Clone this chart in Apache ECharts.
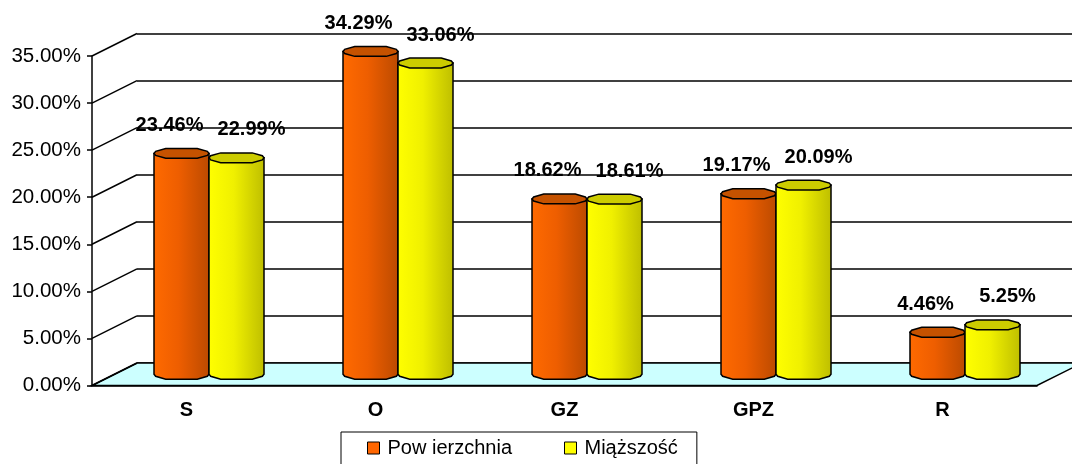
<!DOCTYPE html>
<html>
<head>
<meta charset="utf-8">
<script src="https://cdn.jsdelivr.net/npm/echarts@6/dist/echarts.min.js"></script>
<style>
  html, body { margin: 0; padding: 0; background: #fff; }
  #chart { width: 1072px; height: 464px; }
</style>
</head>
<body>
<div id="chart"></div>
<script>
// dane
const categories = ['S', 'O', 'GZ', 'GPZ', 'R']
const powierzchnia = [23.46, 34.29, 18.62, 19.17, 4.46]
const miazszosc = [22.99, 33.06, 18.61, 20.09, 5.25]
const seriesNames = ['Pow ierzchnia', 'Miąższość']
const yMax = 35
const yStep = 5

// uklad "3D": przednia plaszczyzna, srodek (slupki), tylna sciana
const depthX = 45
const depthY = 22.5
const front = { left: 92, top: 56, width: 945, height: 329.5 }
const mid = { left: front.left + depthX / 2, top: front.top - depthY / 2, width: front.width, height: front.height }
const back = { left: front.left + depthX, top: front.top - depthY, width: front.width, height: front.height }

const FONT = 'Liberation Sans, Arial, sans-serif'
const BAR_W = 55
const RY = 6

const chart = echarts.init(document.getElementById('chart'))

function ellipsePts(cx, cy, rx, ry, angles) {
  return angles.map(a => {
    const t = a * Math.PI / 180
    return [cx + rx * Math.cos(t), cy - ry * Math.sin(t)]
  })
}

function cylinder(side, stops, topColor, labelDx) {
  return function (params, api) {
    const cat = api.value(0)
    const val = api.value(1)
    const base = api.coord([cat, 0])
    const top = api.coord([cat, val])
    const xc = base[0] + side * BAR_W / 2
    const rx = BAR_W / 2
    const x0 = xc - rx
    const x1 = xc + rx
    // korpus: boki + dolna krawedz
    const body = [[x0, top[1]]].concat(
      ellipsePts(xc, base[1], rx, RY, [180, 200, 235, 305, 340, 360]),
      [[x1, top[1]]]
    )
    const lid = ellipsePts(xc, top[1], rx, RY, [0, 20, 55, 125, 160, 180, 200, 235, 305, 340])
    return {
      type: 'group',
      children: [
        {
          type: 'polygon',
          shape: { points: body },
          style: {
            fill: new echarts.graphic.LinearGradient(0, 0, 1, 0, stops),
            stroke: '#000',
            lineWidth: 1.5
          }
        },
        {
          type: 'polygon',
          shape: { points: lid },
          style: { fill: topColor, stroke: '#000', lineWidth: 1.5 }
        },
        {
          type: 'text',
          style: {
            text: val.toFixed(2) + '%',
            x: xc + labelDx,
            y: top[1] - 28,
            align: 'center',
            verticalAlign: 'middle',
            font: 'bold 20px ' + FONT,
            fill: '#000'
          }
        }
      ]
    }
  }
}

const option = {
  animation: false,
  backgroundColor: '#fff',
  grid: [
    Object.assign({}, front),
    Object.assign({}, mid),
    Object.assign({}, back)
  ],
  legend: {
    left: 341,
    top: 432,
    data: [
      { name: seriesNames[0], icon: 'rect', itemStyle: { color: '#FF6600', borderColor: '#000', borderWidth: 1 } },
      { name: seriesNames[1], icon: 'rect', itemStyle: { color: '#FFFF00', borderColor: '#000', borderWidth: 1 } }
    ],
    itemWidth: 12,
    itemHeight: 12,
    itemGap: 52,
    padding: [6, 19, 12, 26],
    borderColor: '#000',
    borderWidth: 1,
    backgroundColor: '#fff',
    textStyle: { fontFamily: FONT, fontSize: 20, color: '#000', padding: [0, 0, 0, 3] }
  },
  xAxis: [
    {
      gridIndex: 0,
      type: 'category',
      data: categories,
      axisLine: { lineStyle: { color: '#000', width: 1.5 } },
      axisTick: { length: 5, lineStyle: { color: '#000', width: 1.5 } },
      axisLabel: { color: '#000', fontFamily: FONT, fontWeight: 'bold', fontSize: 20, margin: 15 }
    },
    { gridIndex: 1, type: 'category', data: categories, show: false },
    { gridIndex: 2, type: 'category', data: categories, show: false }
  ],
  yAxis: [
    {
      gridIndex: 0,
      type: 'value',
      min: 0,
      max: yMax,
      interval: yStep,
      axisLine: { show: true, lineStyle: { color: '#000', width: 1.5 } },
      axisTick: { show: true, length: 5, lineStyle: { color: '#000', width: 1.5 } },
      splitLine: { show: false },
      axisLabel: {
        color: '#000',
        fontFamily: FONT,
        fontSize: 20.5,
        margin: 11,
        formatter: v => v.toFixed(2) + '%'
      }
    },
    { gridIndex: 1, type: 'value', min: 0, max: yMax, interval: yStep, show: false },
    {
      gridIndex: 2,
      type: 'value',
      min: 0,
      max: yMax,
      interval: yStep,
      axisLine: { show: false },
      axisTick: { show: false },
      axisLabel: { show: false },
      splitLine: { show: true, lineStyle: { color: '#000', width: 1.5 } }
    }
  ],
  series: [
    {
      name: seriesNames[0],
      type: 'custom',
      xAxisIndex: 1,
      yAxisIndex: 1,
      clip: false,
      z: 5,
      itemStyle: { color: '#FF6600' },
      renderItem: cylinder(-1, [
        { offset: 0, color: '#FF6A00' },
        { offset: 0.45, color: '#EE5E00' },
        { offset: 1, color: '#BB4A00' }
      ], '#C55200', -12),
      data: powierzchnia.map((v, i) => [i, v])
    },
    {
      name: seriesNames[1],
      type: 'custom',
      xAxisIndex: 1,
      yAxisIndex: 1,
      clip: false,
      z: 6,
      itemStyle: { color: '#FFFF00' },
      renderItem: cylinder(1, [
        { offset: 0, color: '#FFFF00' },
        { offset: 0.45, color: '#F0F000' },
        { offset: 1, color: '#BEBE00' }
      ], '#CCCC00', 15),
      data: miazszosc.map((v, i) => [i, v])
    }
  ]
}

chart.setOption(option)

// podloga i ukosne linie perspektywy
const ticks = []
for (let v = 0; v <= yMax; v += yStep) ticks.push(v)
const graphics = []
const frontRight = front.left + front.width
const y0f = chart.convertToPixel({ yAxisIndex: 0 }, 0)
const y0b = chart.convertToPixel({ yAxisIndex: 2 }, 0)
graphics.push({
  type: 'polygon',
  z: 1,
  shape: {
    points: [
      [front.left, y0f],
      [frontRight, y0f],
      [frontRight + depthX, y0b],
      [back.left, y0b]
    ]
  },
  style: { fill: '#CCFFFF', stroke: '#000', lineWidth: 1.5 }
})
ticks.forEach(v => {
  const yf = chart.convertToPixel({ yAxisIndex: 0 }, v)
  const yb = chart.convertToPixel({ yAxisIndex: 2 }, v)
  graphics.push({
    type: 'line',
    z: 1,
    shape: { x1: front.left, y1: yf, x2: back.left, y2: yb },
    style: { stroke: '#000', lineWidth: 1.5 }
  })
})
chart.setOption({ graphic: graphics })
</script>
</body>
</html>
